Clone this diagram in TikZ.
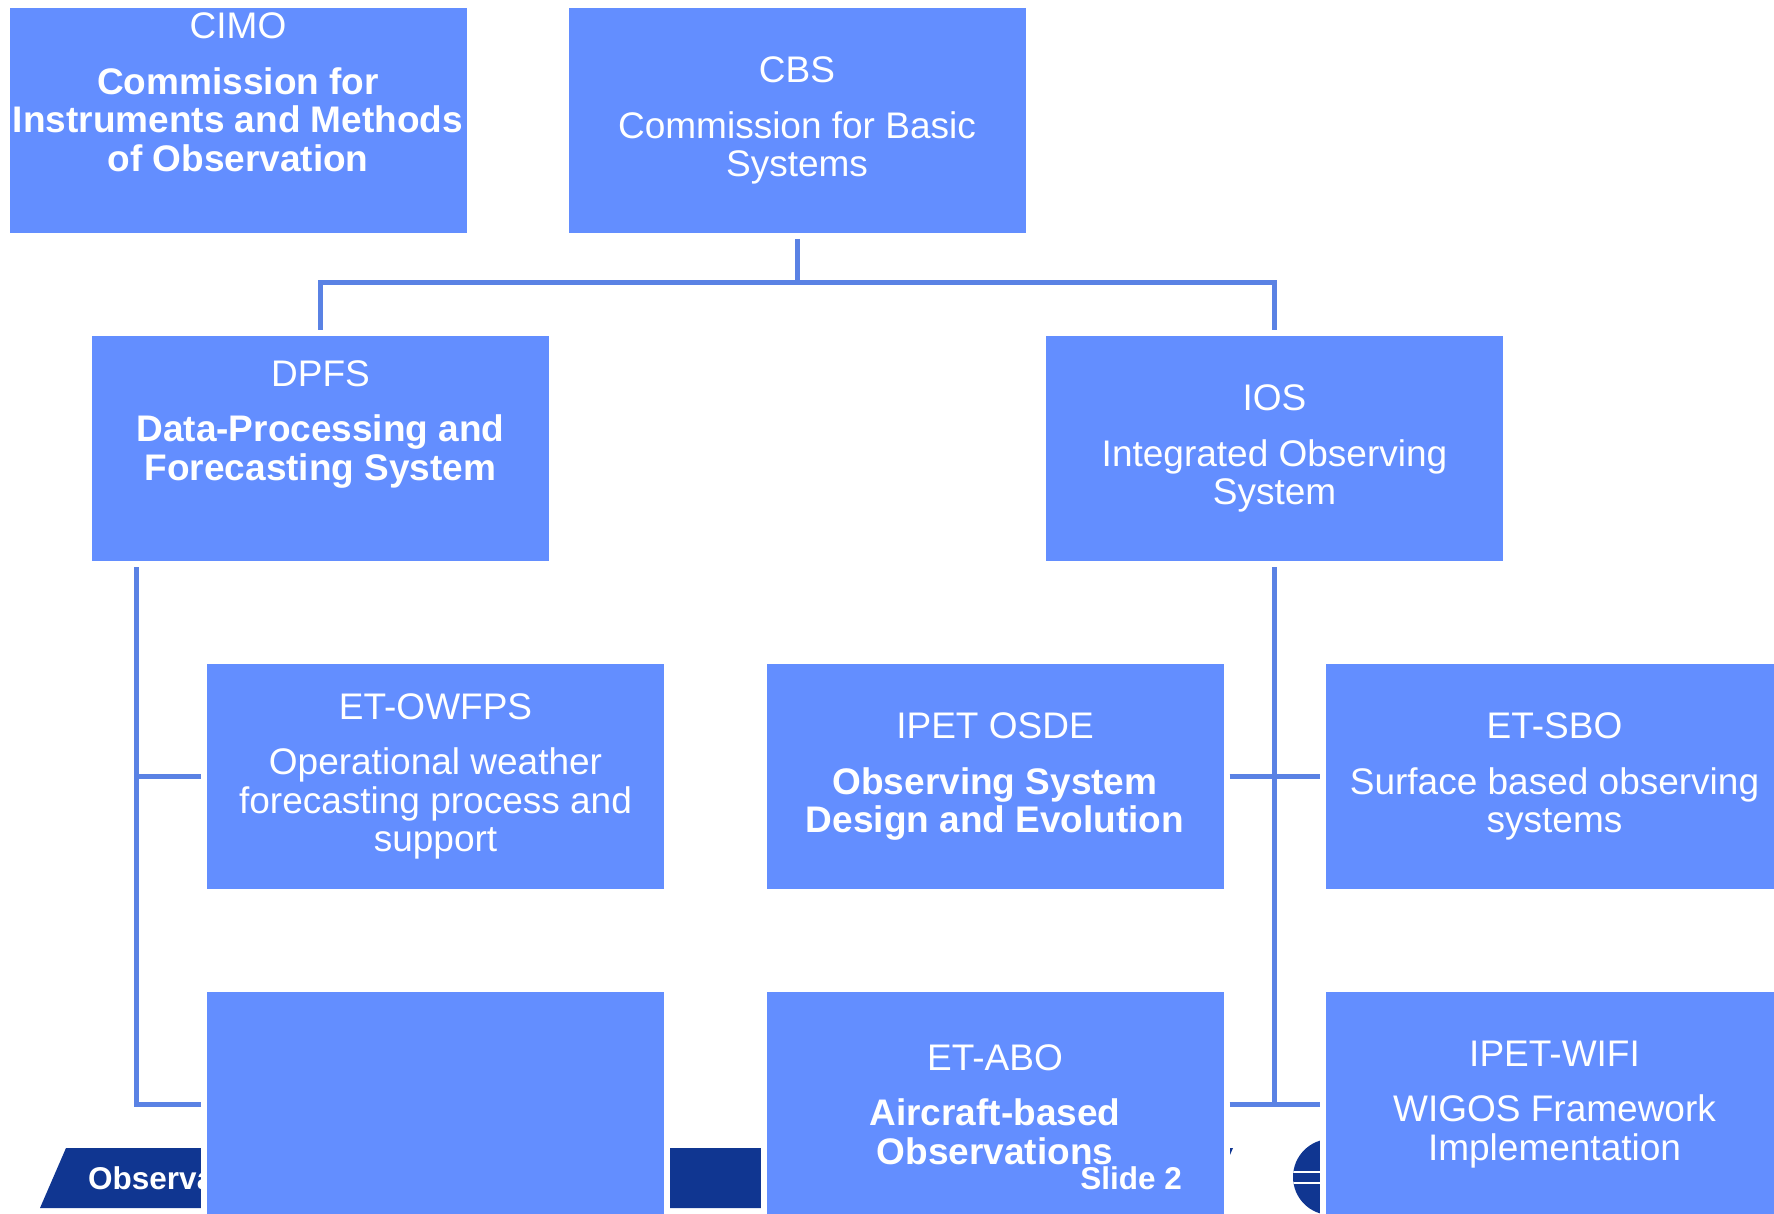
\documentclass[tikz,border=0pt]{standalone}
\usepackage{fontspec}
\setmainfont{Liberation Sans}
\definecolor{boxblue}{RGB}{99,142,255}
\definecolor{linkblue}{RGB}{90,130,228}
\definecolor{barblue}{RGB}{16,54,145}

\begin{document}
\begin{tikzpicture}[x=1pt,y=-1pt,
    unit/.style={rectangle,fill=boxblue,draw=white,line width=6pt,
      minimum width=463pt,minimum height=231pt,inner sep=0pt,align=center,
      text=white,font=\fontsize{37}{38.5}\selectfont},
    footnote/.style={text=white,inner sep=0pt,font=\fontsize{31.5}{32}\selectfont\bfseries},
    link/.style={draw=linkblue,line width=5pt}]
    \useasboundingbox (0,0) rectangle (1774,1214);
    % footer bar and logo
    \fill[barblue] (66,1148) -- (1233,1148) -- (1207,1208) -- (40,1208) -- cycle;
    \node[footnote,anchor=west] (footer) at (88,1178) {Observa};
    \begin{scope}
      \clip (1331,1177) circle[radius=38pt];
      \fill[barblue] (1331,1177) circle[radius=38pt];
      \draw[white,line width=2pt] (1290,1172) -- (1372,1172) (1290,1183) -- (1372,1183);
    \end{scope}
    %
    \node[unit] (cimo) at (238,120.5) {CIMO\\[17pt]\textbf{Commission for}\\\textbf{Instruments and Methods}\\\textbf{of Observation}\\[18pt]~};
    \node[unit] (cbs) at (797,120.5) {CBS\\[17pt]Commission for Basic\\Systems};
    %
    \node[unit] (dpfs) at (320.5,448.5) {DPFS\\[17pt]\textbf{Data-Processing and}\\\textbf{Forecasting System}\\[18pt]~};
    \node[unit] (ios) at (1274.5,448.5) {IOS\\[17pt]Integrated Observing\\System};
    %
    \node[unit] (owfps) at (435.5,776.5) {ET-OWFPS\\[17pt]Operational weather\\forecasting process and\\support};
    \node[unit] (osde) at (995,776.5) {IPET OSDE\\[17pt]\textbf{Observing System}\\\textbf{Design and Evolution}};
    \node[unit] (sbo) at (1554.5,776.5) {ET-SBO\\[17pt]Surface based observing\\systems};
    %
    \node[unit] (gap) at (435.5,1104.5) {};
    \node[unit] (abo) at (995,1104.5) {ET-ABO\\[17pt]\textbf{Aircraft-based}\\\textbf{Observations}};
    \node[unit] (wifi) at (1554.5,1104.5) {IPET-WIFI\\[17pt]WIGOS Framework\\Implementation};
    % connectors
    \draw[link] (cbs.south) -- ++(0,44) -| (dpfs.north);
    \draw[link] (cbs.south) ++(0,44) -| (ios.north);
    \draw[link] (dpfs.south west) ++(50,0) |- (owfps.west);
    \draw[link] (dpfs.south west) ++(50,0) |- (gap.west);
    \draw[link] (ios.south) -- (ios.south |- abo.east);
    \draw[link] (osde.east) -- (sbo.west);
    \draw[link] (abo.east) -- (wifi.west);
    %
    \node[footnote,anchor=east] (slide) at (1182,1178) {Slide 2};
\end{tikzpicture}
\end{document}
